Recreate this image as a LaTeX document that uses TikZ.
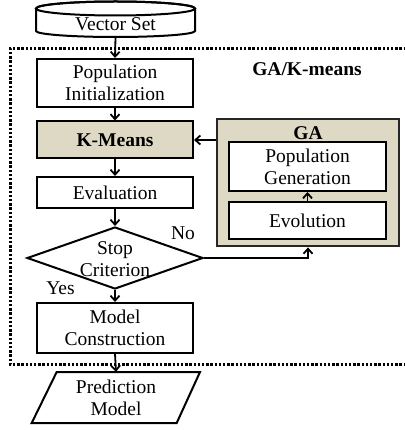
\documentclass[tikz,border=0pt]{standalone}
\usepackage{fontspec}
\setmainfont{Liberation Serif}
\usetikzlibrary{arrows.meta,shapes.geometric}
\definecolor{beige}{HTML}{DDD9C4}
\begin{document}
\begin{tikzpicture}[x=1pt,y=-1pt,
  every node/.style={font=\fontsize{19.5}{22}\selectfont, align=center},
  box/.style={draw, line width=2pt, minimum width=156pt, inner sep=0pt, fill=white},
  arr/.style={line width=1.8pt, -{Straight Barb[length=5pt,width=9pt,line width=1.8pt]}},
  lbl/.style={inner sep=0pt}
]
\useasboundingbox (0,0) rectangle (404,430);
% dotted frame
\draw[line width=3pt, dash pattern=on 2.4pt off 1.8pt] (406,49) -- (10,49) -- (10,364) -- (406,364);
% Vector Set cylinder
\draw[line width=2pt, fill=white] (36,8.5) -- (36,31) arc[start angle=180, end angle=0, x radius=79.5, y radius=6] -- (195,8.5) arc[start angle=0, end angle=-180, x radius=79.5, y radius=7] -- cycle;
\draw[line width=2pt] (115.5,8.5) ellipse[x radius=79.5, y radius=7];
\node[minimum width=159pt, minimum height=36pt, inner sep=0pt] (vs) at (115.5,19) {};
\node[lbl] at (115.5,24.5) {Vector Set};
% main boxes
\node[box, minimum height=48pt] (pi) at (115,83) {Population\\Initialization};
\node[box, minimum height=37pt, fill=beige, font=\fontsize{19.5}{22}\selectfont\bfseries] (km) at (115,140) {K-Means};
\node[box, minimum height=31pt] (ev) at (115,192.5) {Evaluation};
\node[draw, diamond, line width=2pt, minimum width=176pt, minimum height=62pt, inner sep=0pt, fill=white] (sc) at (115,258) {};
\node[lbl] at (115,259.5) {Stop\\Criterion};
\node[box, minimum height=50pt] (mc) at (115,328) {Model\\Construction};
% prediction model parallelogram
\draw[line width=2pt, fill=white] (56.7,372) -- (200,372) -- (176.7,423) -- (31.7,423) -- cycle;
\node[minimum width=144pt, minimum height=51pt, inner sep=0pt] (pm) at (116,397.5) {};
\node[lbl] at (116,397.5) {Prediction\\Model};
% GA box
\node[draw=black!85, line width=2.8pt, fill=beige, minimum width=182pt, minimum height=127pt, inner sep=0pt] (ga) at (308,182.5) {};
\node[lbl, font=\fontsize{19.5}{22}\selectfont\bfseries] (galbl) at (308,133) {GA};
\node[box, minimum width=157pt, minimum height=49pt] (pg) at (307.5,166.5) {Population\\Generation};
\node[box, minimum width=157pt, minimum height=37pt] (evo) at (307.5,220.5) {Evolution};
% labels
\node[lbl, font=\fontsize{19.5}{22}\selectfont\bfseries] (gakm) at (307,69) {GA/K-means};
\node[lbl] (yes) at (60.5,288) {Yes};
\node[lbl] (no) at (183,233) {No};
% arrows
\draw[arr] (vs.south) -- (pi.north);
\draw[arr] (pi.south) -- (km.north);
\draw[arr] (km.south) -- (ev.north);
\draw[arr] (ev.south) -- (sc.north);
\draw[arr] (sc.south) -- (mc.north);
\draw[arr] (mc.south) -- (pm.north);
\draw[arr] (km.east -| ga.west) -- (km.east);
\draw[arr] (evo.north) -- (pg.south);
\draw[arr] (sc.east) -| (ga.south);
\end{tikzpicture}
\end{document}
